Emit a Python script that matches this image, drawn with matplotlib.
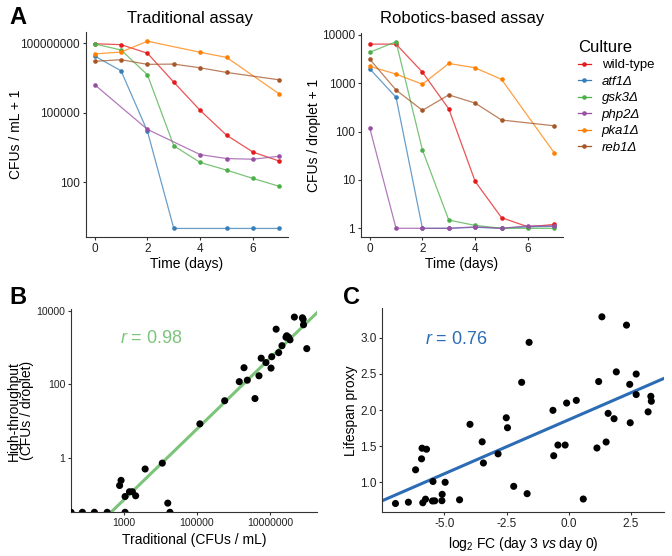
import numpy as np
import matplotlib
matplotlib.use('Agg')
import matplotlib.pyplot as plt
from matplotlib.lines import Line2D

plt.rcParams['font.family'] = ['Liberation Sans', 'DejaVu Sans']
plt.rcParams['mathtext.fontset'] = 'custom'
plt.rcParams['mathtext.rm'] = 'Liberation Sans'
plt.rcParams['mathtext.it'] = 'Liberation Sans:italic'

nan = np.nan
days = np.arange(8)
cultures = ['wild-type', 'atf1Δ', 'gsk3Δ', 'php2Δ', 'pka1Δ', 'reb1Δ']
colors = ['#E41A1C', '#377EB8', '#4DAF4A', '#984EA3', '#FF7F00', '#A65628']

# panel A, traditional assay: log10(CFUs / mL + 1)
trad_wt = [7.98, 7.94, 7.57, 6.32, 5.10, 4.03, 3.30, 2.91]
trad_atf1 = [7.45, 6.81, 4.20, 0.0, nan, 0.0, 0.0, 0.0]
trad_gsk3 = [7.97, 7.71, 6.64, 3.57, 2.85, 2.52, 2.16, 1.82]
trad_php2 = [6.21, nan, 4.28, nan, 3.19, 3.02, 2.99, 3.12]
trad_pka1 = [7.54, 7.62, 8.09, nan, 7.61, 7.39, nan, 5.81]
trad_reb1 = [7.22, 7.29, 7.09, 7.10, 6.94, 6.74, nan, 6.42]

# panel A, robotics assay: log10(CFUs / droplet + 1)
robo_wt = [3.81, 3.81, 3.23, 2.47, 0.97, 0.22, 0.03, 0.08]
robo_atf1 = [3.30, 2.71, 0.0, 0.0, 0.02, 0.0, 0.03, 0.04]
robo_gsk3 = [3.64, 3.86, 1.62, 0.17, 0.06, 0.0, 0.0, 0.0]
robo_php2 = [2.08, 0.0, 0.0, 0.0, 0.03, 0.0, 0.05, 0.05]
robo_pka1 = [3.35, 3.19, 2.98, 3.41, 3.32, 3.08, nan, 1.56]
robo_reb1 = [3.50, 2.86, 2.44, 2.76, 2.59, 2.24, nan, 2.12]

# panel B: log10 traditional vs log10 high-throughput
b_trad_log = [1.55, 1.86, 2.19, 2.54, 3.03, 4.26,
              2.88, 2.92, 3.03, 3.15, 3.23, 3.32, 3.58, 4.05, 4.20, 5.08,
              5.76, 6.59, 6.16, 6.38, 6.70, 6.29, 6.76, 6.89, 7.03, 7.05,
              7.24, 7.33, 7.17, 7.46, 7.51, 7.55, 7.44, 7.67, 7.89, 7.91,
              7.92, 8.01]
b_ht_log = [-1.49, -1.49, -1.49, -1.49, -1.49, -1.49,
            -0.76, -0.62, -1.06, -0.93, -0.93, -1.04, -0.31, -0.15, -1.24, 0.92,
            1.55, 1.61, 2.07, 2.11, 2.23, 2.45, 2.71, 2.59, 2.44, 2.75,
            2.86, 3.05, 3.50, 3.32, 3.28, 3.21, 3.28, 3.83, 3.81, 3.77,
            3.62, 2.97]
b_fit = (0.963, -4.035)  # slope, intercept on log10 scale
b_r = 0.98

# panel C
c_fc = [-6.97, -6.45, -6.16, -5.92, -5.90, -5.87, -5.76, -5.72, -5.48, -5.46,
        -5.39, -5.10, -5.09, -4.97, -4.39, -3.97, -3.48, -3.43, -2.84, -2.51,
        -2.46, -2.21, -1.89, -1.67, -1.59, -0.63, -0.60, -0.43, -0.14, -0.08,
        0.31, 0.59, 1.14, 1.21, 1.34, 1.51, 1.59, 1.83, 1.92, 2.33,
        2.46, 2.48, 2.72, 2.72, 3.20, 3.31, 3.33]
c_lifespan = [0.705, 0.723, 1.172, 1.324, 1.471, 0.715, 0.765, 1.457, 0.740, 1.010,
              0.742, 0.744, 0.832, 0.999, 0.756, 1.802, 1.560, 1.266, 1.393, 1.893,
              1.755, 0.943, 2.384, 0.841, 2.938, 1.996, 1.367, 1.515, 1.515, 2.097,
              2.134, 0.767, 1.474, 2.395, 3.292, 1.557, 1.954, 1.880, 2.529, 3.177,
              2.356, 1.824, 2.499, 2.215, 1.975, 2.190, 2.122]
c_fit = (0.1495, 1.865)
c_r = 0.76

W, H = 672, 556
fig = plt.figure(figsize=(W / 100, H / 100), dpi=100)


def box(x0, y0, x1, y1):
    return [x0 / W, 1 - y1 / H, (x1 - x0) / W, (y1 - y0) / H]


axcol = '#333333'


def style(ax, size=8.5):
    for s in ['top', 'right']:
        ax.spines[s].set_visible(False)
    for s in ['left', 'bottom']:
        ax.spines[s].set_color(axcol)
        ax.spines[s].set_linewidth(0.8)
    ax.tick_params(colors=axcol, labelcolor='#222222', labelsize=size, width=0.8,
                   length=2.5, pad=1.5)
    ax.minorticks_off()


ax1 = fig.add_axes(box(85.7, 31.7, 288, 237))
ax2 = fig.add_axes(box(360.7, 33, 563, 237))
axB = fig.add_axes(box(71, 309, 317, 512.3))
axC = fig.add_axes(box(382.3, 308.3, 664, 512.3))

trad_series = [trad_wt, trad_atf1, trad_gsk3, trad_php2, trad_pka1, trad_reb1]
robo_series = [robo_wt, robo_atf1, robo_gsk3, robo_php2, robo_pka1, robo_reb1]

for ax, series in [(ax1, trad_series), (ax2, robo_series)]:
    for col, y in zip(colors, series):
        y = np.array(y)
        m = ~np.isnan(y)
        ax.plot(days[m], 10 ** y[m], color=col, lw=0.9, alpha=0.75)
        ax.plot(days[m], 10 ** y[m], 'o', color=col, ms=3.3, mec='none')
    ax.set_yscale('log')
    ax.set_xlim(-0.34, 7.33)
    ax.set_xticks([0, 2, 4, 6])
    ax.set_xlabel('Time (days)', fontsize=10)
    ax.xaxis.set_label_coords(0.5, -0.098)
    style(ax)

ax1.set_ylim(10 ** -0.37, 10 ** 8.5)
ax1.set_yticks([1e2, 1e5, 1e8], ['100', '100000', '100000000'])
ax1.set_ylabel('CFUs / mL + 1', fontsize=10)
ax1.yaxis.set_label_coords(-0.31, 0.5)
ax1.minorticks_off()
ax2.set_ylim(10 ** -0.18, 10 ** 4.04)
ax2.set_yticks([1, 10, 100, 1000, 10000], ['1', '10', '100', '1000', '10000'])
ax2.set_ylabel('CFUs / droplet + 1', fontsize=10)
ax2.yaxis.set_label_coords(-0.198, 0.5)
ax2.minorticks_off()

fig.text(190 / W, 1 - 18 / H, 'Traditional assay', fontsize=12, ha='center', va='center')
fig.text(462 / W, 1 - 19 / H, 'Robotics-based assay', fontsize=12, ha='center', va='center')

handles = [Line2D([], [], color=c, marker='o', ms=3.3, mec='none', lw=0.9) for c in colors]
leg = ax2.legend(handles, cultures, title='Culture', loc='upper left',
                 bbox_to_anchor=(566 / W, 1 - 28 / H), bbox_transform=fig.transFigure,
                 frameon=False, fontsize=9.5, title_fontsize=12, handlelength=1.0,
                 handletextpad=0.8, labelspacing=0.32, alignment='left')
for t in leg.get_texts()[1:]:
    t.set_fontstyle('italic')

# panel B
axB.scatter(10 ** np.array(b_trad_log), 10 ** np.array(b_ht_log), s=26, color='black',
            edgecolors='none', zorder=3)
bx = np.array([1.0, 9.0])
axB.plot(10 ** bx, 10 ** (b_fit[0] * bx + b_fit[1]), color='#7CC47A', lw=2.2, zorder=2)
axB.set_xscale('log')
axB.set_yscale('log')
axB.set_xlim(10 ** 1.548, 10 ** 8.29)
axB.set_ylim(10 ** -1.49, 10 ** 4.05)
axB.set_xticks([1e3, 1e5, 1e7], ['1000', '100000', '10000000'])
axB.set_yticks([1, 100, 10000], ['1', '100', '10000'])
axB.set_xlabel('Traditional (CFUs / mL)', fontsize=10)
axB.set_ylabel('High-throughput\n(CFUs / droplet)', fontsize=10, linespacing=0.95)
style(axB, size=7.6)
axB.xaxis.set_label_coords(0.5, -0.103)
axB.yaxis.set_label_coords(-0.15, 0.5)
axB.text(0.199, 0.857, r'$r$ = %.2f' % b_r, transform=axB.transAxes, color='#7CC47A',
         fontsize=13, ha='left', va='center')

# panel C
axC.scatter(c_fc, c_lifespan, s=26, color='black', edgecolors='none', zorder=3)
cx = np.array([-8.0, 4.0])
axC.plot(cx, c_fit[0] * cx + c_fit[1], color='#2B6CB4', lw=2.2, zorder=2)
axC.set_xlim(-7.5, 3.84)
axC.set_ylim(0.583, 3.41)
axC.set_xticks([-5.0, -2.5, 0.0, 2.5], ['-5.0', '-2.5', '0.0', '2.5'])
axC.set_yticks([1.0, 1.5, 2.0, 2.5, 3.0], ['1.0', '1.5', '2.0', '2.5', '3.0'])
axC.set_xlabel(r'log$_2$ FC (day 3 $vs$ day 0)', fontsize=10)
axC.set_ylabel('Lifespan proxy', fontsize=10)
style(axC)
axC.xaxis.set_label_coords(0.5, -0.111)
axC.yaxis.set_label_coords(-0.085, 0.5)
axC.text(0.152, 0.848, r'$r$ = %.2f' % c_r, transform=axC.transAxes, color='#2B6CB4',
         fontsize=13, ha='left', va='center')

for lab, x, y in [('A', 9, 17), ('B', 9, 297), ('C', 343, 297)]:
    fig.text(x / W, 1 - y / H, lab, fontsize=17, fontweight='bold', ha='left', va='center')

fig.savefig('out.png', dpi=100)
